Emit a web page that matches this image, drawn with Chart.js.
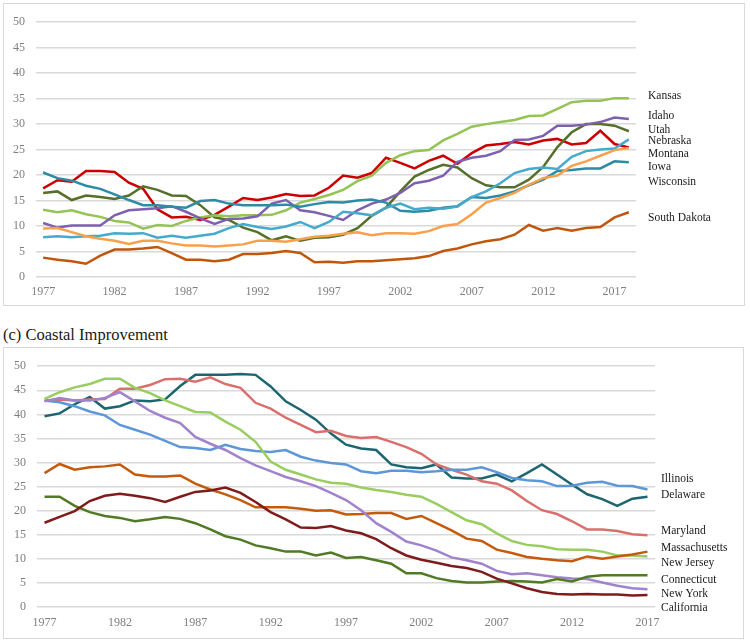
<!DOCTYPE html>
<html>
<head>
<meta charset="utf-8">
<script src="https://cdn.jsdelivr.net/npm/chart.js@4/dist/chart.umd.min.js"></script>
<style>
  body { margin: 0; background: #fff; width: 750px; height: 642px; position: relative; overflow: hidden; }
  .box { position: absolute; border: 1px solid #d9d9d9; box-sizing: border-box; background: #fff; }
  .box canvas { position: absolute; left: 0; top: 0; }
  #title2 { position: absolute; left: 3px; top: 325px; font-family: "Liberation Serif", serif; font-size: 16.5px; line-height: 20px; color: #1a1a1a; white-space: nowrap; }
</style>
</head>
<body>
<div class="box" style="left:3px; top:3px; width:742px; height:303px;">
  <canvas id="chart1" width="740" height="301"></canvas>
</div>
<div id="title2">(c) Coastal Improvement</div>
<div class="box" style="left:3px; top:347px; width:741px; height:292px;">
  <canvas id="chart2" width="739" height="290"></canvas>
</div>
<script>
// ---- top panel, 1977-2018
const years1 = []
for (let y = 1977; y <= 2018; y++) years1.push(String(y))

const kansas = [13.2, 12.7, 13.1, 12.3, 11.8, 11.0, 10.7, 9.5, 10.2, 10.0, 11.0, 11.7, 12.1, 11.9, 12.1, 12.1, 12.2, 13.1, 14.6, 15.3, 16.1,
  17.1, 18.8, 19.9, 22.4, 23.9, 24.7, 24.9, 26.8, 28.1, 29.5, 30.0, 30.4, 30.8, 31.6, 31.7, 33.0, 34.3, 34.6, 34.6, 35.1, 35.1]
const idaho = [10.6, 9.7, 10.1, 10.1, 10.1, 12.1, 13.1, 13.3, 13.5, 13.9, 12.8, 11.5, 10.4, 11.4, 11.5, 11.9, 14.4, 15.1, 13.1, 12.7, 12.0,
  11.2, 13.1, 14.4, 15.2, 16.5, 18.4, 18.9, 19.9, 22.6, 23.4, 23.8, 24.7, 26.9, 27.0, 27.7, 29.7, 29.7, 29.9, 30.4, 31.3, 31.0]
const utah = [16.5, 16.8, 15.1, 16.0, 15.7, 15.3, 16.0, 17.8, 17.1, 16.0, 15.9, 14.1, 11.7, 11.2, 9.7, 8.8, 7.2, 8.0, 7.1, 7.7, 7.8,
  8.3, 9.6, 12.0, 13.6, 16.8, 19.7, 21.0, 22.0, 21.5, 19.4, 18.0, 17.6, 17.6, 19.1, 21.6, 25.5, 28.4, 30.0, 30.0, 29.7, 28.6]
const nebraska = [7.8, 8.0, 7.8, 8.0, 8.1, 8.6, 8.5, 8.6, 7.7, 8.1, 7.7, 8.1, 8.5, 9.6, 10.4, 9.8, 9.4, 9.9, 10.8, 9.6, 10.8,
  12.8, 12.5, 12.1, 13.6, 14.4, 13.3, 13.6, 13.4, 13.8, 15.7, 16.8, 18.4, 20.4, 21.2, 21.5, 21.2, 23.6, 24.7, 25.0, 25.2, 27.0]
const montana = [17.4, 19.0, 18.7, 20.8, 20.8, 20.6, 18.5, 17.3, 13.3, 11.7, 11.8, 11.2, 12.2, 13.8, 15.5, 15.1, 15.6, 16.3, 15.9, 16.0, 17.5,
  19.9, 19.5, 20.4, 23.4, 22.4, 21.3, 22.8, 23.8, 22.2, 24.3, 25.8, 26.1, 26.5, 26.0, 26.8, 27.1, 26.0, 26.3, 28.7, 26.1, 25.4]
const iowa = [9.5, 9.6, 8.8, 8.0, 7.5, 7.1, 6.5, 7.1, 7.1, 6.6, 6.2, 6.2, 6.0, 6.2, 6.4, 7.1, 7.1, 6.9, 7.4, 7.9, 8.1,
  8.5, 8.8, 8.2, 8.6, 8.6, 8.5, 9.0, 10.0, 10.4, 12.3, 14.6, 15.5, 16.5, 18.1, 19.4, 19.9, 21.8, 22.7, 23.8, 24.9, 25.3]
const wisconsin = [20.5, 19.4, 18.9, 17.9, 17.3, 16.2, 15.1, 14.1, 14.1, 13.8, 13.6, 14.9, 15.1, 14.4, 14.1, 14.1, 14.1, 14.2, 13.8, 14.3, 14.7,
  14.6, 15.0, 15.2, 14.6, 13.0, 12.8, 13.0, 13.6, 13.9, 15.7, 15.5, 16.0, 16.8, 18.0, 19.1, 20.8, 21.0, 21.3, 21.3, 22.7, 22.5]
const southDakota = [3.8, 3.4, 3.1, 2.6, 4.2, 5.4, 5.4, 5.6, 5.9, 4.7, 3.4, 3.4, 3.1, 3.4, 4.5, 4.5, 4.7, 5.1, 4.7, 2.9, 3.0,
  2.8, 3.1, 3.1, 3.3, 3.5, 3.7, 4.1, 5.1, 5.6, 6.4, 7.0, 7.4, 8.3, 10.2, 9.1, 9.6, 9.1, 9.6, 9.8, 11.7, 12.7]

// right-hand state names and the value they sit at
const names1 = ["Kansas", "Idaho", "Utah", "Nebraska", "Montana", "Iowa", "Wisconsin", "South Dakota"]
const nameLevels1 = [35.6, 31.6, 28.9, 26.6, 24.2, 21.5, 18.6, 11.6]

// ---- bottom panel (c), 1977-2017
const years2 = []
for (let y = 1977; y <= 2017; y++) years2.push(String(y))

const illinois = [42.9, 42.5, 41.7, 40.6, 39.8, 37.8, 36.8, 35.8, 34.5, 33.2, 33.0, 32.6, 33.7, 32.8, 32.4, 32.2, 32.6, 31.2, 30.4, 29.9, 29.6,
  28.2, 27.8, 28.3, 28.3, 28.0, 28.2, 28.5, 28.5, 29.0, 28.0, 26.8, 26.3, 26.1, 25.1, 25.2, 25.8, 26.0, 25.2, 25.1, 24.4]
const delaware = [39.6, 40.2, 42.1, 43.6, 41.2, 41.7, 42.9, 42.7, 43.1, 45.9, 48.2, 48.2, 48.2, 48.4, 48.2, 45.8, 42.7, 40.9, 38.9, 36.0, 33.7,
  32.9, 32.6, 29.6, 29.0, 28.8, 29.6, 26.9, 26.7, 26.7, 27.5, 26.1, 27.8, 29.6, 27.5, 25.4, 23.4, 22.4, 21.0, 22.5, 22.9]
const maryland = [42.9, 43.1, 42.9, 43.1, 43.2, 45.3, 45.3, 46.1, 47.3, 47.4, 46.8, 47.7, 46.3, 45.5, 42.4, 41.2, 39.3, 37.8, 36.3, 36.6, 35.5,
  35.1, 35.3, 34.3, 33.2, 31.8, 29.6, 28.5, 27.5, 26.1, 25.6, 24.2, 22.0, 20.1, 19.3, 17.8, 16.1, 16.1, 15.8, 15.1, 14.9]
const massachusetts = [27.8, 29.7, 28.5, 29.0, 29.2, 29.6, 27.5, 27.1, 27.1, 27.3, 25.6, 24.4, 23.4, 22.2, 20.7, 20.7, 20.7, 20.4, 20.0, 20.1, 19.2,
  19.3, 19.5, 19.5, 18.3, 18.9, 17.4, 15.9, 14.2, 13.7, 11.9, 11.2, 10.4, 10.0, 9.7, 9.5, 10.5, 10.0, 10.5, 10.9, 11.5]
const newJersey = [43.2, 44.6, 45.6, 46.3, 47.4, 47.4, 45.5, 44.4, 42.9, 41.7, 40.5, 40.4, 38.5, 36.8, 34.3, 30.2, 28.5, 27.5, 26.5, 25.8, 25.6,
  24.8, 24.3, 23.9, 23.3, 22.9, 21.4, 19.7, 18.0, 17.2, 15.3, 13.7, 12.9, 12.6, 12.0, 11.9, 11.9, 11.5, 10.7, 10.7, 10.5]
const connecticut = [22.9, 22.9, 21.0, 19.7, 18.9, 18.5, 17.8, 18.2, 18.7, 18.3, 17.4, 16.1, 14.7, 14.0, 12.8, 12.2, 11.5, 11.5, 10.7, 11.3, 10.2,
  10.4, 9.7, 9.0, 7.0, 7.0, 6.0, 5.4, 5.1, 5.1, 5.3, 5.4, 5.3, 5.1, 5.8, 5.3, 6.3, 6.6, 6.6, 6.6, 6.6]
const newYork = [42.7, 43.4, 42.9, 42.9, 43.4, 44.6, 42.7, 40.7, 39.3, 38.2, 35.3, 33.9, 32.6, 30.9, 29.4, 28.2, 27.0, 26.1, 25.1, 23.7, 22.2,
  20.1, 17.4, 15.6, 13.6, 12.8, 11.7, 10.3, 9.7, 9.0, 7.5, 6.8, 7.0, 6.6, 6.2, 5.9, 5.8, 5.1, 4.4, 3.9, 3.7]
const california = [17.5, 18.7, 19.9, 22.0, 23.1, 23.5, 23.1, 22.6, 21.8, 22.9, 23.9, 24.2, 24.8, 23.7, 21.8, 19.7, 18.2, 16.5, 16.4, 16.8, 15.9,
  15.3, 14.1, 12.2, 10.7, 9.8, 9.2, 8.5, 8.1, 7.3, 5.9, 4.9, 3.9, 3.1, 2.7, 2.6, 2.7, 2.6, 2.6, 2.4, 2.5]

const names2 = ["Illinois", "Delaware", "Maryland", "Massachusetts", "New Jersey", "Connecticut", "New York", "California"]
const nameLevels2 = [26.5, 23.2, 15.7, 12.3, 9.1, 5.65, 2.65, -0.3]

const serif = '"Liberation Serif", "Times New Roman", serif'

// writes the state names to the right of the plot
const endLabels = {
  id: 'endLabels',
  afterDatasetsDraw(chart, args, opts) {
    let ctx = chart.ctx
    let yScale = chart.scales.y
    ctx.save()
    ctx.font = '11.5px ' + serif
    ctx.fillStyle = '#1a1a1a'
    ctx.textBaseline = 'middle'
    ctx.textAlign = 'left'
    for (let i = 0; i < opts.names.length; i++) {
      ctx.fillText(opts.names[i], chart.chartArea.right + opts.gap, yScale.getPixelForValue(opts.levels[i]))
    }
    ctx.restore()
  }
}

function line(label, data, color) {
  return { label: label, data: data, borderColor: color, backgroundColor: color, borderWidth: 2.5, pointRadius: 0, tension: 0, fill: false }
}

function makeOptions(pad, yWidth, xHeight, names, levels, gap, xPad) {
  return {
    responsive: false,
    animation: false,
    layout: { padding: pad },
    plugins: {
      legend: { display: false },
      tooltip: { enabled: false },
      endLabels: { names: names, levels: levels, gap: gap }
    },
    scales: {
      x: {
        offset: true,
        grid: { display: false, drawTicks: false },
        border: { display: false },
        afterFit: (s) => { s.height = xHeight },
        ticks: {
          autoSkip: false, maxRotation: 0, padding: xPad,
          color: '#7f7f7f', font: { family: serif, size: 12 },
          callback: function(value, index) { return index % 5 == 0 ? this.getLabelForValue(value) : '' }
        }
      },
      y: {
        min: 0, max: 50,
        grid: { color: '#d9d9d9', lineWidth: 1.5, drawTicks: false },
        border: { display: false },
        afterFit: (s) => { s.width = yWidth },
        ticks: { stepSize: 5, padding: 11, color: '#7f7f7f', font: { family: serif, size: 12 } }
      }
    }
  }
}

new Chart(document.getElementById('chart1'), {
  type: 'line',
  data: {
    labels: years1,
    datasets: [
      line('South Dakota', southDakota, '#C0570E'),
      line('Iowa', iowa, '#F9A04C'),
      line('Nebraska', nebraska, '#45AACB'),
      line('Wisconsin', wisconsin, '#2E8BA5'),
      line('Idaho', idaho, '#7F5FB0'),
      line('Kansas', kansas, '#93C455'),
      line('Utah', utah, '#56702A'),
      line('Montana', montana, '#CC0000')
    ]
  },
  options: makeOptions({ left: 0, top: 14, right: 108, bottom: 0 }, 32, 28, names1, nameLevels1, 12, 8),
  plugins: [endLabels]
})

new Chart(document.getElementById('chart2'), {
  type: 'line',
  data: {
    labels: years2,
    datasets: [
      line('California', california, '#7E1C1C'),
      line('Connecticut', connecticut, '#507A23'),
      line('New York', newYork, '#A083CC'),
      line('Massachusetts', massachusetts, '#C45A0C'),
      line('New Jersey', newJersey, '#9ACD60'),
      line('Illinois', illinois, '#5D97D8'),
      line('Maryland', maryland, '#D9706E'),
      line('Delaware', delaware, '#1D6670')
    ]
  },
  options: makeOptions({ left: 0, top: 14, right: 88, bottom: 0 }, 33, 31, names2, nameLevels2, 6, 9),
  plugins: [endLabels]
})
</script>
</body>
</html>
